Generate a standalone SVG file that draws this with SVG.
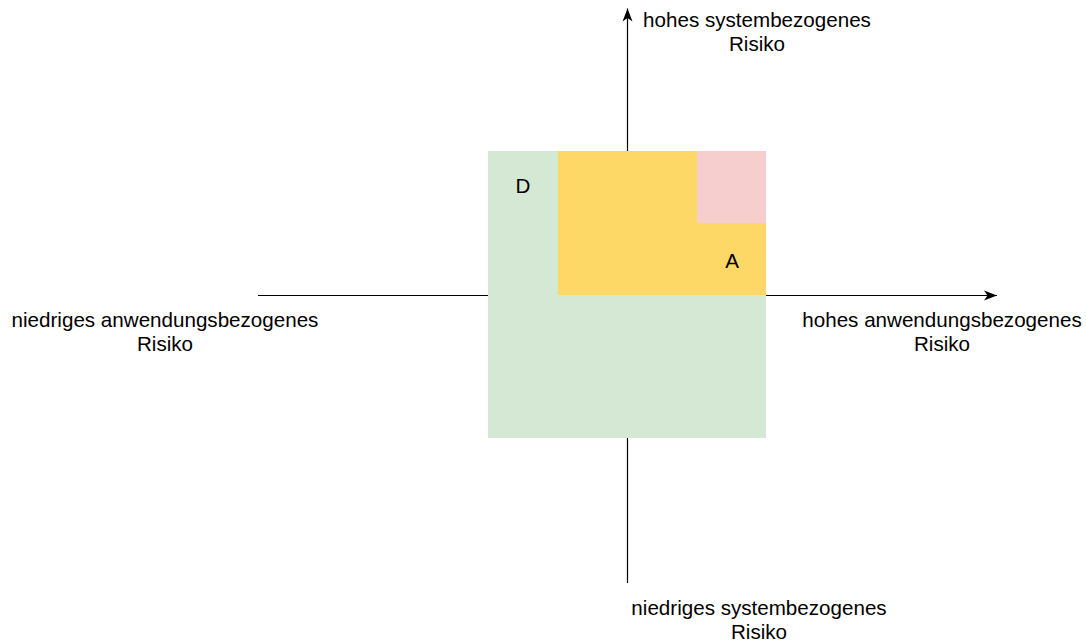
<svg xmlns="http://www.w3.org/2000/svg" width="1086" height="643" viewBox="0 0 1086 643">
<style>
text{font-family:"Liberation Sans",Arial,Helvetica,sans-serif;font-size:20.6px;fill:#000;text-anchor:middle}
.ax{stroke:#000;stroke-width:1.2;fill:none}
</style>
<defs>
<marker id="arr" markerUnits="userSpaceOnUse" markerWidth="15" markerHeight="12" refX="13" refY="5.5" orient="auto" viewBox="0 0 15 12">
<path d="M0,0.5 L13,5.5 L0,10.5 L3.5,5.5 Z" fill="#000"/>
</marker>
</defs>
<rect width="1086" height="643" fill="#fff"/>
<g id="connectors">
<line class="ax" x1="258" y1="295.5" x2="997" y2="295.5" marker-end="url(#arr)"/>
<line class="ax" x1="627.5" y1="583" x2="627.5" y2="8.5" marker-end="url(#arr)"/>
</g>
<g id="zone-green"><rect x="488" y="151" width="278" height="287" fill="#d5e8d4"/></g>
<g id="zone-yellow"><rect x="558" y="151" width="208" height="144" fill="#fdd866"/></g>
<g id="zone-red"><rect x="697" y="151" width="69" height="72" fill="#f6cecd"/></g>
<g id="label-D"><text x="523" y="193">D</text></g>
<g id="label-A"><text x="732" y="268">A</text></g>
<g id="label-top"><text x="757" y="27">hohes systembezogenes</text><text x="757" y="51">Risiko</text></g>
<g id="label-left"><text x="165" y="327">niedriges anwendungsbezogenes</text><text x="165" y="351">Risiko</text></g>
<g id="label-right"><text x="942" y="327">hohes anwendungsbezogenes</text><text x="942" y="351">Risiko</text></g>
<g id="label-bottom"><text x="759" y="615">niedriges systembezogenes</text><text x="759" y="639">Risiko</text></g>
</svg>
